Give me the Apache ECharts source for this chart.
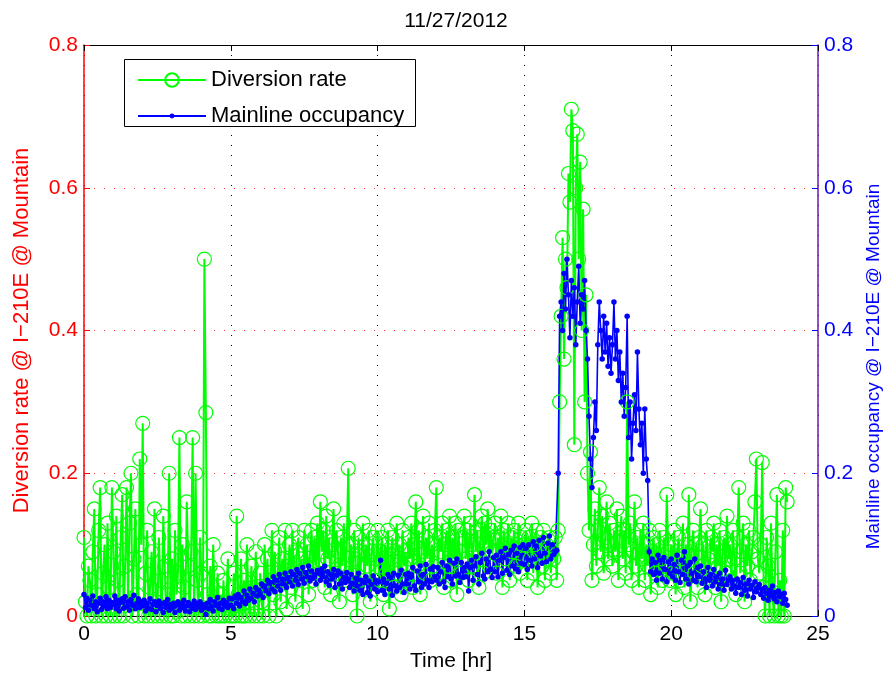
<!DOCTYPE html>
<html>
<head>
<meta charset="utf-8">
<title>Diversion rate / Mainline occupancy</title>
<script src="https://cdn.jsdelivr.net/npm/echarts@6/dist/echarts.min.js"></script>
<style>
  html, body { margin: 0; padding: 0; background: #fff; }
  #chart { width: 888px; height: 682px; }
</style>
</head>
<body>
<div id="chart"></div>
<script>
// 3-minute samples, one row per hour (0h .. 23h), 20 per row
const stepMinutes = 3
const xTicks = [0, 5, 10, 15, 20, 25]
const yTicks = [0, 0.2, 0.4, 0.6, 0.8]

const diversionRate = [
  0.11, 0.02, 0, 0.07, 0.05, 0, 0.09, 0.15, 0, 0.03, 0.12, 0.18, 0, 0.06, 0.1, 0, 0.13, 0.04, 0, 0.18,
  0.09, 0, 0.14, 0.05, 0, 0.11, 0.17, 0, 0.07, 0.18, 0.02, 0.13, 0.2, 0, 0.08, 0.15, 0.03, 0, 0.22, 0.1,
  0.27, 0, 0.06, 0.12, 0, 0.04, 0.09, 0, 0.15, 0.02, 0, 0.11, 0.05, 0, 0.14, 0.07, 0, 0.03, 0.2, 0,
  0.08, 0, 0.12, 0.03, 0.06, 0.25, 0, 0.1, 0.04, 0, 0.16, 0.07, 0, 0.09, 0.25, 0, 0.2, 0.05, 0, 0.11,
  0.06, 0, 0.5, 0.285, 0.03, 0, 0.07, 0, 0.1, 0.02, 0, 0.06, 0, 0.03, 0, 0.05, 0, 0.02, 0.08, 0,
  0.01, 0, 0.06, 0, 0.14, 0.03, 0, 0.08, 0, 0.05, 0, 0.1, 0.02, 0, 0.07, 0.04, 0, 0.09, 0.03, 0,
  0.06, 0.02, 0, 0.1, 0.04, 0.08, 0, 0.05, 0.12, 0.03, 0.09, 0, 0.06, 0.11, 0.02, 0.08, 0.05, 0.12, 0.01, 0.07,
  0.1, 0.04, 0.12, 0.06, 0.02, 0.09, 0.11, 0.05, 0.08, 0.01, 0.12, 0.07, 0.1, 0.03, 0.09, 0.12, 0.05, 0.11, 0.07, 0.13,
  0.06, 0.16, 0.09, 0.12, 0.04, 0.14, 0.08, 0.11, 0.03, 0.1, 0.15, 0.06, 0.12, 0.09, 0.02, 0.11, 0.07, 0.13, 0.05, 0.1,
  0.207, 0.06, 0.1, 0.03, 0.12, 0.08, 0, 0.11, 0.05, 0.09, 0.13, 0.04, 0.1, 0.07, 0.12, 0.02, 0.09, 0.11, 0.05, 0.08,
  0.12, 0.05, 0.09, 0.11, 0.03, 0.1, 0.06, 0.12, 0.01, 0.08, 0.11, 0.04, 0.09, 0.13, 0.06, 0.1, 0.03, 0.12, 0.07, 0.09,
  0.05, 0.11, 0.08, 0.13, 0.04, 0.1, 0.16, 0.07, 0.12, 0.03, 0.09, 0.14, 0.06, 0.11, 0.08, 0.13, 0.05, 0.1, 0.07, 0.12,
  0.18, 0.06, 0.11, 0.09, 0.13, 0.04, 0.1, 0.12, 0.07, 0.14, 0.05, 0.11, 0.08, 0.13, 0.03, 0.12, 0.09, 0.06, 0.11, 0.14,
  0.08, 0.12, 0.05, 0.13, 0.1, 0.07, 0.17, 0.09, 0.12, 0.04, 0.11, 0.14, 0.06, 0.13, 0.1, 0.15, 0.07, 0.12, 0.09, 0.11,
  0.13, 0.06, 0.11, 0.09, 0.14, 0.04, 0.12, 0.08, 0.1, 0.13, 0.05, 0.11, 0.09, 0.12, 0.07, 0.1, 0.13, 0.06, 0.11, 0.08,
  0.1, 0.12, 0.05, 0.11, 0.08, 0.13, 0.06, 0.1, 0.12, 0.04, 0.09, 0.11, 0.07, 0.12, 0.05, 0.1, 0.08, 0.11, 0.06, 0.09,
  0.08, 0.11, 0.05, 0.12, 0.3, 0.42, 0.53, 0.36, 0.5, 0.46, 0.62, 0.58, 0.71, 0.68, 0.24, 0.6, 0.675, 0.5, 0.636, 0.4,
  0.57, 0.3, 0.45, 0.2, 0.12, 0.23, 0.05, 0.1, 0.15, 0.07, 0.12, 0.18, 0.09, 0.14, 0.06, 0.11, 0.16, 0.08, 0.13, 0.1,
  0.07, 0.12, 0.09, 0.15, 0.05, 0.11, 0.14, 0.08, 0.12, 0.06, 0.3, 0.1, 0.13, 0.05, 0.09, 0.16, 0.07, 0.11, 0.04, 0.12,
  0.08, 0.13, 0.05, 0.1, 0.07, 0.12, 0.03, 0.09, 0.11, 0.06, 0.1, 0.04, 0.12, 0.08, 0.05, 0.11, 0.07, 0.17, 0.09, 0.05,
  0.1, 0.06, 0.12, 0.03, 0.09, 0.11, 0.05, 0.08, 0.13, 0.04, 0.1, 0.07, 0.17, 0.02, 0.09, 0.12, 0.06, 0.1, 0.04, 0.11,
  0.15, 0.07, 0.1, 0.03, 0.12, 0.08, 0.05, 0.11, 0.09, 0.13, 0.04, 0.1, 0.07, 0.12, 0.02, 0.09, 0.11, 0.06, 0.14, 0.08,
  0.1, 0.05, 0.12, 0.08, 0.03, 0.11, 0.18, 0.06, 0.09, 0.13, 0.02, 0.1, 0.07, 0.12, 0.05, 0.09, 0.11, 0.16, 0.22, 0.08,
  0.06, 0.1, 0.215, 0.04, 0, 0.11, 0.07, 0, 0.13, 0.03, 0, 0.09, 0.17, 0, 0.05, 0, 0.12, 0, 0.18, 0.16
]

const mainlineOccupancy = [
  0.03, 0.012, 0.025, 0.008, 0.022, 0.015, 0.028, 0.01, 0.02, 0.006, 0.018, 0.025, 0.009, 0.02, 0.014, 0.027, 0.01, 0.022, 0.012, 0.019,
  0.016, 0.028, 0.01, 0.022, 0.007, 0.019, 0.024, 0.011, 0.027, 0.013, 0.02, 0.008, 0.023, 0.015, 0.029, 0.01, 0.018, 0.024, 0.012, 0.02,
  0.014, 0.022, 0.007, 0.018, 0.011, 0.024, 0.009, 0.016, 0.02, 0.006, 0.015, 0.021, 0.01, 0.017, 0.005, 0.019, 0.012, 0.023, 0.008, 0.016,
  0.011, 0.018, 0.005, 0.015, 0.02, 0.008, 0.017, 0.012, 0.022, 0.007, 0.014, 0.019, 0.006, 0.016, 0.011, 0.021, 0.009, 0.017, 0.013, 0.02,
  0.008, 0.016, 0.012, 0.002, 0.018, 0.01, 0.023, 0.013, 0.007, 0.02, 0.015, 0.026, 0.011, 0.018, 0.009, 0.022, 0.014, 0.019, 0.012, 0.025,
  0.015, 0.024, 0.01, 0.028, 0.018, 0.03, 0.014, 0.026, 0.02, 0.035, 0.017, 0.029, 0.022, 0.038, 0.025, 0.032, 0.02, 0.04, 0.028, 0.036,
  0.03, 0.045, 0.026, 0.042, 0.035, 0.05, 0.031, 0.047, 0.038, 0.055, 0.034, 0.05, 0.042, 0.058, 0.036, 0.052, 0.045, 0.06, 0.04, 0.054,
  0.048, 0.062, 0.042, 0.058, 0.05, 0.065, 0.044, 0.06, 0.052, 0.068, 0.046, 0.061, 0.055, 0.07, 0.049, 0.063, 0.053, 0.058, 0.045, 0.064,
  0.06, 0.05, 0.066, 0.055, 0.07, 0.048, 0.062, 0.043, 0.058, 0.052, 0.065, 0.04, 0.057, 0.063, 0.045, 0.06, 0.038, 0.054, 0.047, 0.061,
  0.052, 0.04, 0.058, 0.046, 0.035, 0.053, 0.042, 0.06, 0.036, 0.05, 0.03, 0.047, 0.055, 0.033, 0.049, 0.028, 0.044, 0.056, 0.038, 0.05,
  0.034, 0.048, 0.078, 0.036, 0.052, 0.03, 0.046, 0.058, 0.038, 0.054, 0.029, 0.06, 0.042, 0.035, 0.057, 0.04, 0.064, 0.045, 0.033, 0.058,
  0.045, 0.06, 0.038, 0.055, 0.068, 0.042, 0.036, 0.063, 0.048, 0.07, 0.04, 0.058, 0.045, 0.072, 0.05, 0.04, 0.066, 0.048, 0.069, 0.055,
  0.05, 0.068, 0.045, 0.062, 0.075, 0.048, 0.04, 0.07, 0.055, 0.078, 0.052, 0.045, 0.074, 0.056, 0.08, 0.058, 0.047, 0.075, 0.054, 0.068,
  0.055, 0.073, 0.035, 0.068, 0.078, 0.05, 0.07, 0.083, 0.058, 0.045, 0.075, 0.088, 0.056, 0.052, 0.08, 0.062, 0.09, 0.066, 0.054, 0.082,
  0.062, 0.085, 0.055, 0.078, 0.09, 0.06, 0.082, 0.095, 0.064, 0.086, 0.058, 0.092, 0.07, 0.098, 0.066, 0.088, 0.062, 0.096, 0.074, 0.1,
  0.072, 0.095, 0.065, 0.1, 0.078, 0.07, 0.104, 0.08, 0.098, 0.068, 0.106, 0.084, 0.074, 0.11, 0.088, 0.076, 0.102, 0.112, 0.08, 0.1,
  0.086, 0.09, 0.092, 0.2, 0.42, 0.44, 0.4, 0.48, 0.43, 0.5, 0.45, 0.39, 0.47, 0.42, 0.46, 0.38, 0.44, 0.49, 0.41, 0.45,
  0.43, 0.47, 0.4, 0.36, 0.28, 0.22, 0.18, 0.25, 0.3, 0.26, 0.38, 0.44, 0.4, 0.36, 0.42, 0.37, 0.41, 0.35, 0.39, 0.34,
  0.38, 0.44, 0.36, 0.4, 0.33, 0.37, 0.3, 0.34, 0.28, 0.32, 0.42, 0.25, 0.3, 0.22, 0.27, 0.31, 0.26, 0.37, 0.29, 0.24,
  0.27, 0.2, 0.29, 0.22, 0.19, 0.09, 0.062, 0.08, 0.058, 0.075, 0.05, 0.085, 0.06, 0.078, 0.052, 0.082, 0.065, 0.048, 0.076, 0.06,
  0.08, 0.055, 0.072, 0.05, 0.085, 0.062, 0.047, 0.078, 0.058, 0.09, 0.052, 0.07, 0.045, 0.075, 0.06, 0.05, 0.08, 0.048, 0.068, 0.055,
  0.07, 0.046, 0.062, 0.052, 0.04, 0.068, 0.05, 0.058, 0.042, 0.065, 0.048, 0.055, 0.038, 0.06, 0.045, 0.052, 0.036, 0.064, 0.044, 0.05,
  0.055, 0.038, 0.05, 0.042, 0.032, 0.052, 0.04, 0.047, 0.03, 0.054, 0.036, 0.045, 0.028, 0.05, 0.038, 0.043, 0.026, 0.048, 0.034, 0.04,
  0.044, 0.03, 0.038, 0.025, 0.04, 0.032, 0.022, 0.036, 0.028, 0.042, 0.024, 0.033, 0.02, 0.035, 0.027, 0.03, 0.018, 0.032, 0.023, 0.015
]

const FONT = "'Liberation Sans', Arial, Helvetica, sans-serif"
const GREEN = '#00ff00'
const BLUE = '#0000ff'
const RED = '#ff0000'

// pair each sample with its time in hours
const toPoints = arr => arr.map((v, i) => [i * stepMinutes / 60, v])

const chart = echarts.init(document.getElementById('chart'), null, { renderer: 'canvas' })

// legend box (two legends sit on it, one per row, so each keeps its own marker size)
const legendText = { fontSize: 22, color: '#000', fontFamily: FONT }

const option = {
  animation: false,
  backgroundColor: '#fff',
  textStyle: { fontFamily: FONT },
  title: {
    text: '11/27/2012',
    left: 451,
    top: 6,
    textAlign: 'center',
    textStyle: { fontSize: 21, fontWeight: 'normal', color: '#000', fontFamily: FONT }
  },
  graphic: [
    {
      type: 'rect',
      z: 3,
      shape: { x: 124.5, y: 59.5, width: 291, height: 67 },
      style: { fill: '#fff', stroke: '#000', lineWidth: 1 }
    }
  ],
  legend: [
    {
      left: 137,
      top: 69,
      padding: 0,
      itemWidth: 68,
      itemHeight: 17,
      itemGap: 0,
      textStyle: legendText,
      data: ['Diversion rate']
    },
    {
      left: 137,
      top: 105,
      padding: 0,
      itemWidth: 68,
      itemHeight: 6,
      itemGap: 0,
      textStyle: legendText,
      data: ['Mainline occupancy']
    }
  ],
  grid: {
    left: 84,
    right: 70,
    top: 45,
    bottom: 66,
    containLabel: false,
    outerBoundsMode: 'none'
  },
  xAxis: [
    {
      type: 'value',
      min: xTicks[0],
      max: xTicks[xTicks.length - 1],
      interval: 5,
      name: 'Time [hr]',
      nameLocation: 'middle',
      nameGap: 35,
      nameTextStyle: { fontSize: 21, color: '#000', fontFamily: FONT },
      axisLine: { show: true, onZero: false, lineStyle: { color: '#000', width: 1 } },
      axisTick: { show: true, inside: true, length: 6, lineStyle: { color: '#000' } },
      axisLabel: { fontSize: 21, color: '#000', margin: 8, fontFamily: FONT },
      splitLine: { show: true, lineStyle: { color: '#000', type: [1, 9], width: 1 } }
    },
    {
      // top frame with inner ticks
      type: 'value',
      position: 'top',
      min: xTicks[0],
      max: xTicks[xTicks.length - 1],
      interval: 5,
      axisLine: { show: true, onZero: false, lineStyle: { color: '#000', width: 1 } },
      axisTick: { show: true, inside: true, length: 6, lineStyle: { color: '#000' } },
      axisLabel: { show: false },
      splitLine: { show: false }
    }
  ],
  yAxis: [
    {
      type: 'value',
      position: 'left',
      min: yTicks[0],
      max: yTicks[yTicks.length - 1],
      interval: 0.2,
      name: 'Diversion rate @ I\u2212210E @ Mountain',
      nameLocation: 'middle',
      nameRotate: 90,
      nameGap: 51,
      nameTextStyle: { fontSize: 22, color: RED, fontFamily: FONT },
      axisLine: { show: true, onZero: false, lineStyle: { color: RED, width: 1.5 } },
      axisTick: { show: true, inside: true, length: 6, lineStyle: { color: RED } },
      axisLabel: { fontSize: 21, color: RED, margin: 6, fontFamily: FONT },
      splitLine: { show: true, lineStyle: { color: RED, type: [1, 9], width: 1, opacity: 0.8 } }
    },
    {
      type: 'value',
      position: 'right',
      min: yTicks[0],
      max: yTicks[yTicks.length - 1],
      interval: 0.2,
      name: 'Mainline occupancy @ I\u2212210E @ Mountain',
      nameLocation: 'middle',
      nameRotate: 90,
      nameGap: 44,
      // label sits a little below the middle of the axis in the original
      nameTextStyle: { fontSize: 19, color: BLUE, fontFamily: FONT, padding: [0, 72, 0, 0] },
      axisLine: { show: true, onZero: false, lineStyle: { color: '#6a18b4', width: 1.5 } },
      axisTick: { show: true, inside: true, length: 6, lineStyle: { color: BLUE } },
      axisLabel: { fontSize: 21, color: BLUE, margin: 6, fontFamily: FONT },
      splitLine: { show: false }
    }
  ],
  series: [
    {
      name: 'Diversion rate',
      type: 'line',
      xAxisIndex: 0,
      yAxisIndex: 0,
      data: toPoints(diversionRate),
      symbol: 'circle',
      symbolSize: 14,
      showAllSymbol: true,
      clip: false,
      color: GREEN,
      lineStyle: { color: GREEN, width: 2 },
      itemStyle: { color: 'rgba(0,255,0,0)', borderColor: GREEN, borderWidth: 1.2 }
    },
    {
      name: 'Mainline occupancy',
      type: 'line',
      xAxisIndex: 0,
      yAxisIndex: 1,
      data: toPoints(mainlineOccupancy),
      symbol: 'circle',
      symbolSize: 5.5,
      showAllSymbol: true,
      color: BLUE,
      lineStyle: { color: BLUE, width: 1.6 },
      itemStyle: { color: BLUE }
    }
  ]
}

chart.setOption(option)
</script>
</body>
</html>
